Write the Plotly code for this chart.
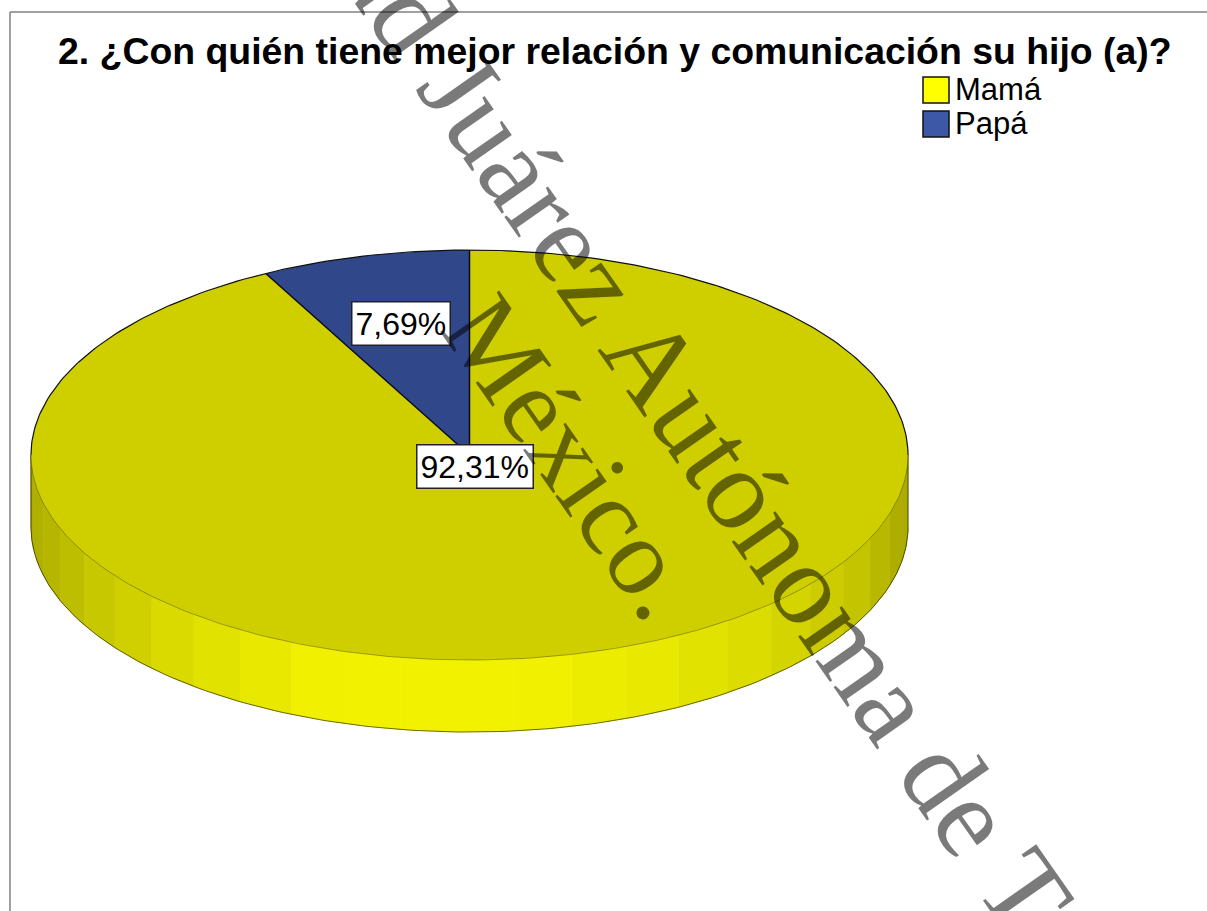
import numpy as np
import plotly.graph_objects as go

TITLE = "2. ¿Con quién tiene mejor relación y comunicación su hijo (a)?"
categories = ["Mamá", "Papá"]
shares = [92.31, 7.69]
share_labels = ["92,31%", "7,69%"]
top_colors = ["#CFCF00", "#30478A"]
legend_colors = ["#FFFF00", "#3E58A8"]
# wall facets, from the right edge round the front to the left edge
side_shades = [172, 172, 174, 184, 196, 204, 212, 220, 226, 232, 236, 240, 242,
               242, 242, 240, 232, 226, 218, 208, 200, 190, 182, 176, 172]
watermark_lines = ["Universidad Juárez Autónoma de Tabasco.", "México."]

CX, CY, RX, RY, DEPTH = 469.5, 455, 438.5, 205, 72
W, H = 1207, 911

def ellipse(t_deg, dy=0):
    """Clockwise angle from 12 o'clock -> pixel position on the disc."""
    t = np.radians(t_deg)
    return CX + RX * np.sin(t), CY - RY * np.cos(t) + dy

fig = go.Figure()

edges = np.r_[90, 91.5 + 7.5 * np.arange(24), 270]
for i, s in enumerate(side_shades):
    ang = np.linspace(edges[i], edges[i + 1], 8)
    x1, y1 = ellipse(ang)
    x2, y2 = ellipse(ang[::-1], DEPTH)
    fig.add_trace(go.Scatter(x=np.r_[x1, x2], y=np.r_[y1, y2], mode="lines", fill="toself",
                             fillcolor=f"rgb({s},{s},0)", line=dict(width=1, color=f"rgb({s},{s},0)"),
                             hoverinfo="skip", showlegend=False))

# lower rim of wall
ang = np.linspace(270, 90, 181)
x, y = ellipse(ang, DEPTH)
fig.add_trace(go.Scatter(x=x, y=y, mode="lines", line=dict(color="rgba(0,0,0,0.55)", width=1),
                         hoverinfo="skip", showlegend=False))
for a in (270, 90):
    xa, ya = ellipse(a)
    fig.add_trace(go.Scatter(x=[xa, xa], y=[ya, ya + DEPTH], mode="lines",
                             line=dict(color="rgba(0,0,0,0.6)", width=1), hoverinfo="skip", showlegend=False))

# top face slices, clockwise from 12 o'clock
start = 0.0
for name, share, col in zip(categories, shares, top_colors):
    sweep = share / sum(shares) * 360
    ang = np.linspace(start, start + sweep, 361)
    x, y = ellipse(ang)
    fig.add_trace(go.Scatter(x=np.r_[CX, x, CX], y=np.r_[CY, y, CY], mode="lines", fill="toself",
                             fillcolor=col, line=dict(width=0), name=name, hoverinfo="skip", showlegend=False))
    start += sweep

# outlines
ang = np.linspace(-90, 90, 181)
x, y = ellipse(ang)
fig.add_trace(go.Scatter(x=x, y=y, mode="lines", line=dict(color="#101010", width=1.2),
                         hoverinfo="skip", showlegend=False))
ang = np.linspace(90, 270, 181)
x, y = ellipse(ang)
fig.add_trace(go.Scatter(x=x, y=y, mode="lines", line=dict(color="rgba(0,0,0,0.3)", width=1),
                         hoverinfo="skip", showlegend=False))
sweep_a = shares[0] / sum(shares) * 360
xe, ye = ellipse(sweep_a)
xt, yt = ellipse(0)
fig.add_trace(go.Scatter(x=[xe, CX, xt], y=[ye, CY, yt], mode="lines", line=dict(color="#0a0a20", width=1.5),
                         hoverinfo="skip", showlegend=False))

# legend
for name, col, ly in zip(categories, legend_colors, [90, 124]):
    fig.add_trace(go.Scatter(x=[936], y=[ly], mode="markers",
                             marker=dict(symbol="square", size=26, color=col, line=dict(color="#101010", width=1.5)),
                             hoverinfo="skip", showlegend=False))
    fig.add_trace(go.Scatter(x=[955], y=[ly + 2], mode="text", text=[name], textposition="middle right",
                             textfont=dict(family="Liberation Sans", size=31, color="black"),
                             hoverinfo="skip", showlegend=False))

ann = [
    dict(x=475, y=466, text=share_labels[0], showarrow=False, bgcolor="white", bordercolor="#222222",
         borderwidth=1.5, borderpad=3, font=dict(family="Liberation Sans", size=32, color="black")),
    dict(x=400.5, y=323, text=share_labels[1], showarrow=False, bgcolor="white", bordercolor="#222222",
         borderwidth=1.5, borderpad=3, font=dict(family="Liberation Sans", size=32, color="black")),
    dict(x=671, y=387, text=watermark_lines[0], textangle=55, showarrow=False,
         font=dict(family="Liberation Serif", size=116, color="rgba(0,0,0,0.52)")),
    dict(x=573, y=457, text=watermark_lines[1], textangle=55, showarrow=False,
         font=dict(family="Liberation Serif", size=110, color="rgba(0,0,0,0.52)")),
]
for a in ann:
    a.update(xref="x", yref="y")

fig.add_annotation(x=614.5, y=51, xref="x", yref="y", text=f"<b>{TITLE}</b>", showarrow=False,
                   font=dict(family="Liberation Sans", size=37.4, color="black"))
for a in ann:
    fig.add_annotation(**a)

fig.update_layout(
    width=W, height=H, margin=dict(l=0, r=0, t=0, b=0), paper_bgcolor="white", plot_bgcolor="white",
    showlegend=False,
    xaxis=dict(range=[0, W], visible=False, fixedrange=True),
    yaxis=dict(range=[H, 0], visible=False, fixedrange=True),
    shapes=[dict(type="line", xref="x", yref="y", x0=10, x1=10, y0=12, y1=H, line=dict(color="#808080", width=1.5)),
            dict(type="line", xref="x", yref="y", x0=10, x1=W, y0=12, y1=12, line=dict(color="#808080", width=1.5))],
)
fig.write_html("out.html", config={"displayModeBar": False},
               post_script="document.body.style.margin='0';document.body.style.overflow='hidden';")
